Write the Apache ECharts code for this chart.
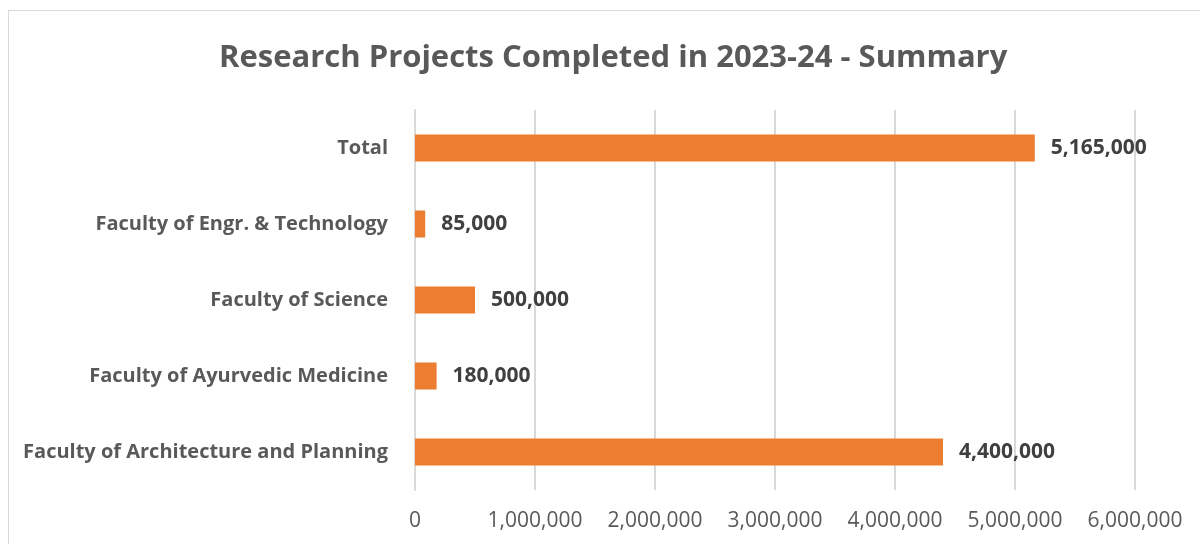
<!DOCTYPE html>
<html>
<head>
<meta charset="utf-8">
<script src="https://cdn.jsdelivr.net/npm/echarts@6/dist/echarts.min.js"></script>
<style>
  html, body { margin: 0; padding: 0; background: #fff; }
  #frame { position: absolute; left: 8px; top: 10px; width: 1200px; height: 560px; border: 1px solid #d9d9d9; box-sizing: border-box; }
  #chart { position: absolute; left: 0; top: 0; width: 1200px; height: 544px; }
</style>
</head>
<body>
<div id="frame"></div>
<div id="chart"></div>
<script>
// kategori dari bawah ke atas
var faculties = [
    "Faculty of Architecture and Planning",
    "Faculty of Ayurvedic Medicine",
    "Faculty of Science",
    "Faculty of Engr. & Technology",
    "Total"
];
var amounts = [4400000, 180000, 500000, 85000, 5165000];
var xTicks = [0, 1000000, 2000000, 3000000, 4000000, 5000000, 6000000];

var fontFam = "'Open Sans', sans-serif";

function fmt(v) {
    return Number(v).toLocaleString("en-US");
}

var myChart = echarts.init(document.getElementById("chart"));

var option = {
    animation: false,
    title: {
        text: "Research Projects Completed in 2023-24 - Summary",
        left: 214,
        top: 38,
        textStyle: { color: "#595959", fontSize: 31, fontWeight: "bold", fontFamily: fontFam }
    },
    grid: { left: 415, right: 65, top: 110, bottom: 54, containLabel: false },
    xAxis: {
        type: "value",
        min: xTicks[0],
        max: xTicks[xTicks.length - 1],
        interval: 1000000,
        axisLine: { show: false },
        axisTick: { show: false },
        splitLine: { lineStyle: { color: "#d9d9d9", width: 2 } },
        axisLabel: {
            color: "#595959",
            fontSize: 21,
            fontFamily: fontFam,
            margin: 21,
            formatter: function (v) { return fmt(v); }
        }
    },
    yAxis: {
        type: "category",
        data: faculties,
        axisLine: { show: true, lineStyle: { color: "#d9d9d9", width: 2 } },
        axisTick: { show: false },
        axisLabel: {
            color: "#595959",
            fontSize: 20,
            fontWeight: "bold",
            fontFamily: fontFam,
            margin: 27,
            padding: [3, 0, 0, 0]
        }
    },
    series: [{
        type: "bar",
        data: amounts,
        barWidth: 27,
        itemStyle: { color: "#ed7d31" },
        label: {
            show: true,
            position: "right",
            distance: 16,
            color: "#404040",
            fontSize: 21,
            fontWeight: "bold",
            fontFamily: fontFam,
            padding: [3, 0, 0, 0],
            formatter: function (p) { return fmt(p.value); }
        }
    }]
};

myChart.setOption(option);
</script>
</body>
</html>
